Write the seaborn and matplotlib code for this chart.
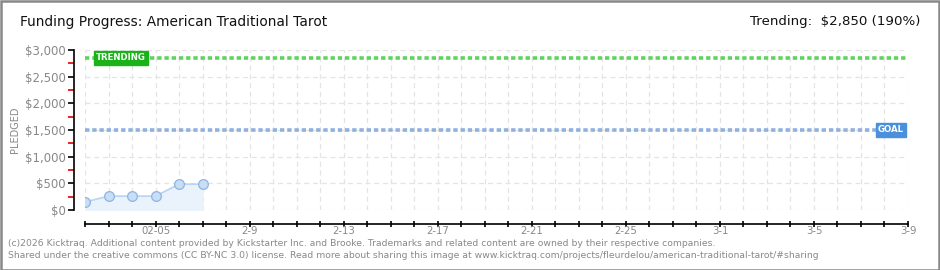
import matplotlib
matplotlib.use("Agg")
import matplotlib.pyplot as plt
import matplotlib.dates as mdates
from matplotlib.patches import Rectangle
import numpy as np
import pandas as pd
import seaborn as sns

# ---- data ----
dates = ["2026-02-02", "2026-02-03", "2026-02-04", "2026-02-05", "2026-02-06", "2026-02-07"]
pledged = [150, 260, 260, 260, 485, 485]
goal = 1500
trending = 2850
x_start, x_end = "2026-02-02", "2026-03-09"
label_dates = ["2026-02-05", "2026-02-09", "2026-02-13", "2026-02-17", "2026-02-21",
               "2026-02-25", "2026-03-01", "2026-03-05", "2026-03-09"]
label_text = ["02-05", "2-9", "2-13", "2-17", "2-21", "2-25", "3-1", "3-5", "3-9"]
y_ticks = [0, 500, 1000, 1500, 2000, 2500, 3000]
y_labels = ["$0", "$500", "$1,000", "$1,500", "$2,000", "$2,500", "$3,000"]
title = "Funding Progress: American Traditional Tarot"
trend_text = "Trending:  $2,850 (190%)"
footer1 = ("(c)2026 Kicktraq. Additional content provided by Kickstarter Inc. and Brooke. "
           "Trademarks and related content are owned by their respective companies.")
footer2 = ("Shared under the creative commons (CC BY-NC 3.0) license. Read more about sharing "
           "this image at www.kicktraq.com/projects/fleurdelou/american-traditional-tarot/#sharing")

df = pd.DataFrame({"date": pd.to_datetime(dates), "pledged": pledged})

sns.set_theme(style="white")
plt.rcParams["font.family"] = ["DejaVu Sans"]

W, H = 940, 270
fig = plt.figure(figsize=(W / 100, H / 100), dpi=100)
fig.patch.set_facecolor("white")

L, R, T, B = 85, 908, 50, 210
ax = fig.add_axes([L / W, 1 - B / H, (R - L) / W, (B - T) / H])
ax.set_facecolor("white")

x0, x1 = pd.Timestamp(x_start), pd.Timestamp(x_end)
ax.set_xlim(x0, x1)
ax.set_ylim(0, 3000)

# grid
ax.xaxis.set_major_locator(mdates.DayLocator())
ax.set_yticks(y_ticks)
ax.grid(True, color="#e4e4e4", linestyle=(0, (4, 3)), linewidth=0.9)
ax.set_axisbelow(True)

# area + line
ax.fill_between(df["date"], df["pledged"], 0, color="#eaf2fc", zorder=1)
sns.lineplot(data=df, x="date", y="pledged", ax=ax, color="#b8d4f5", linewidth=1.2,
             marker="o", markersize=7, markerfacecolor="#c6def8",
             markeredgecolor="#93b4dc", markeredgewidth=0.9, zorder=3)

# trending & goal lines
ax.axhline(trending, color="#5fd35f", linestyle=(0, (1.2, 0.8)), linewidth=2.6, zorder=2)
ax.axhline(goal, color="#8fb1de", linestyle=(0, (1.2, 0.8)), linewidth=2.6, zorder=2)

ax.text(0.013, trending, "TRENDING", transform=ax.get_yaxis_transform(),
        ha="left", va="center", fontsize=6.2, color="white", fontweight="bold",
        bbox=dict(boxstyle="square,pad=0.25", fc="#19b319", ec="#19b319"), zorder=5)
ax.text(0.995, goal, "GOAL", transform=ax.get_yaxis_transform(),
        ha="right", va="center", fontsize=6.2, color="white", fontweight="bold",
        bbox=dict(boxstyle="square,pad=0.25", fc="#4a90dc", ec="#4a90dc"), zorder=5)

# spines
for s in ["top", "right"]:
    ax.spines[s].set_visible(False)
ax.spines["left"].set_position(("outward", 8))
ax.spines["bottom"].set_position(("outward", 10))
ax.spines["left"].set_color("black")
ax.spines["bottom"].set_color("black")
ax.spines["left"].set_linewidth(1.2)
ax.spines["bottom"].set_linewidth(1.2)

ax.set_yticklabels(y_labels)
ax.set_yticks([250, 750, 1250, 1750, 2250, 2750], minor=True)
ax.tick_params(axis="y", which="major", length=4, width=1.2, color="black",
               labelsize=8.5, labelcolor="#888888", pad=2, left=True)
ax.tick_params(axis="y", which="minor", length=4, width=1.2, color="#e00000", left=True)

# x ticks: daily marks, labels every 4 days
ax.tick_params(axis="x", which="major", length=5, width=1.2, color="black",
               direction="inout", bottom=True, labelbottom=False)
for d, t in zip(label_dates, label_text):
    ax.text(pd.Timestamp(d), -(226 - B) / (B - T), t, transform=ax.get_xaxis_transform(),
            ha="center", va="top", fontsize=7.3, color="#888888")

ax.set_xlabel("")
ax.set_ylabel("PLEDGED", fontsize=7, color="#888888")
ax.yaxis.set_label_coords((20 - L) / (R - L), 0.5)

# titles
fig.text(20 / W, 1 - 22 / H, title, ha="left", va="center", fontsize=9.9, color="#111111")
fig.text(920 / W, 1 - 22 / H, trend_text, ha="right", va="center", fontsize=9.6, color="#111111")

# footer
fig.text(8 / W, 1 - 243 / H, footer1, ha="left", va="center", fontsize=6.7, color="#888888")
fig.text(8 / W, 1 - 256 / H, footer2, ha="left", va="center", fontsize=6.7, color="#888888")

# border
fig.add_artist(Rectangle((0.5 / W, 0.5 / H), 1 - 1.5 / W, 1 - 1.5 / H, transform=fig.transFigure,
                         fill=False, ec="#888888", lw=1.8))

fig.savefig("out.png", dpi=100)
